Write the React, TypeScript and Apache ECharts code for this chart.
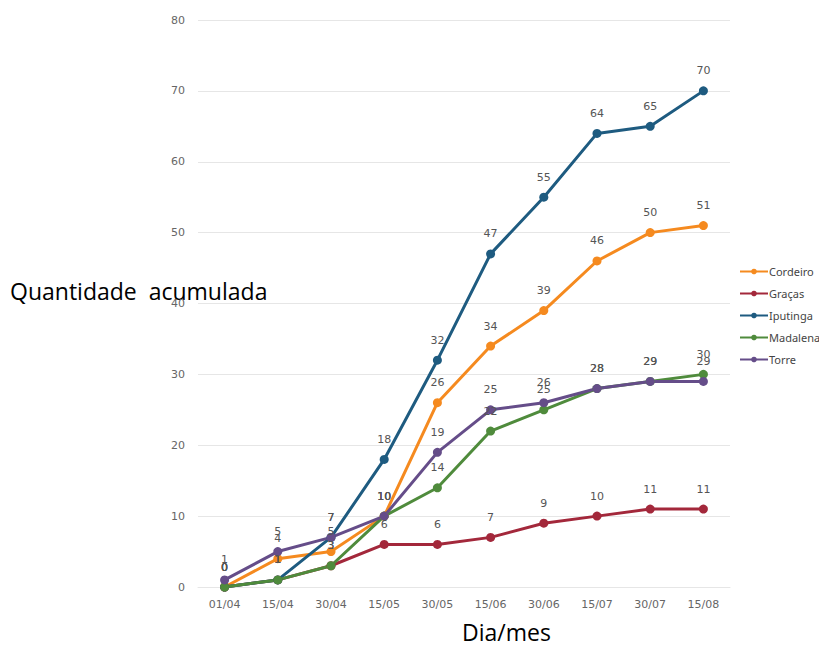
import React, { useEffect, useRef } from "react";
import * as echarts from "echarts";

const categories = ["01/04", "15/04", "30/04", "15/05", "30/05", "15/06", "30/06", "15/07", "30/07", "15/08"];
const cordeiro = [0, 4, 5, 10, 26, 34, 39, 46, 50, 51];
const gracas = [0, 1, 3, 6, 6, 7, 9, 10, 11, 11];
const iputinga = [0, 1, 7, 18, 32, 47, 55, 64, 65, 70];
const madalena = [0, 1, 3, 10, 14, 22, 25, 28, 29, 30];
const torre = [1, 5, 7, 10, 19, 25, 26, 28, 29, 29];

const seriesDefs = [
  { name: "Cordeiro", data: cordeiro, color: "#F58A1F" },
  { name: "Graças", data: gracas, color: "#A3283B" },
  { name: "Iputinga", data: iputinga, color: "#1E5B80" },
  { name: "Madalena", data: madalena, color: "#4F8B3C" },
  { name: "Torre", data: torre, color: "#654D89" },
];

export default function App() {
  const ref = useRef<HTMLDivElement>(null);
  useEffect(() => {
    if (!ref.current) return;
    const chart = echarts.init(ref.current, undefined, { renderer: "svg" });
    const font = "DejaVu Sans";
    chart.setOption({
      animation: false,
      backgroundColor: "#ffffff",
      grid: { left: 198, right: 89, top: 20, bottom: 62 },
      legend: {
        orient: "vertical",
        left: 734,
        top: 261,
        itemWidth: 28,
        itemHeight: 7,
        itemGap: 11,
        textStyle: { color: "#444", fontSize: 11, fontFamily: "Noto Sans", padding: [0, 0, 0, -4] },
        data: seriesDefs.map((s) => s.name),
      },
      xAxis: {
        type: "category",
        data: categories,
        boundaryGap: true,
        axisLine: { show: true, lineStyle: { color: "#e6e6e6" } },
        axisTick: { show: false },
        axisLabel: { color: "#666", fontSize: 11, fontFamily: font, margin: 12 },
      },
      yAxis: {
        type: "value",
        min: 0,
        max: 80,
        interval: 10,
        axisLine: { show: false },
        axisTick: { show: false },
        splitLine: { lineStyle: { color: "#e6e6e6" } },
        axisLabel: { color: "#666", fontSize: 11, fontFamily: font, margin: 13 },
      },
      series: seriesDefs.map((s) => ({
        name: s.name,
        type: "line",
        data: s.data,
        color: s.color,
        symbol: "circle",
        symbolSize: 9,
        lineStyle: { width: 3, color: s.color },
        itemStyle: { color: s.color },
        label: {
          show: true,
          position: "top",
          distance: 10,
          color: "#555",
          fontSize: 11,
          fontFamily: font,
        },
      })),
      graphic: [
        {
          type: "text",
          left: 10,
          top: 279,
          style: { text: "Quantidade  acumulada", fontSize: 23, fontFamily: "Open Sans", fill: "#000" },
        },
        {
          type: "text",
          left: 462,
          top: 620,
          style: { text: "Dia/mes", fontSize: 23, fontFamily: "Open Sans", fill: "#000" },
        },
      ],
    });
    return () => chart.dispose();
  }, []);
  return <div ref={ref} style={{ width: 819, height: 649, position: "absolute", left: 0, top: 0 }} />;
}
